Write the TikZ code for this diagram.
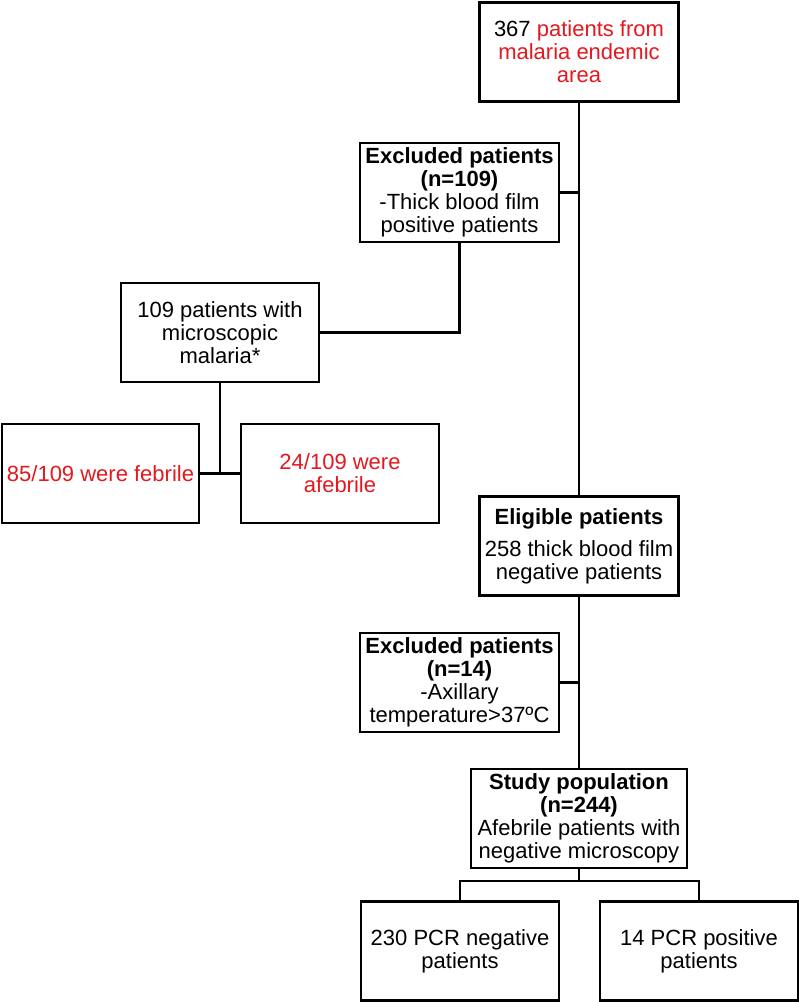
\documentclass[tikz,border=0pt]{standalone}
\usepackage{fontspec}
\setmainfont{Liberation Sans}
\definecolor{fred}{RGB}{228,24,30}
\begin{document}
\begin{tikzpicture}[x=1pt,y=-1pt,
  box/.style={draw, line width=2.3pt, align=center, inner sep=0pt,
    minimum width=199pt, minimum height=99pt,
    font=\fontsize{22}{23}\selectfont},
  conn/.style={line width=2.3pt}]
\useasboundingbox (0,0) rectangle (799,1002);
\node[box] (top) at (579,52) {367 \textcolor{fred}{patients from}\\\textcolor{fred}{malaria endemic}\\\textcolor{fred}{area}};
\node[box] (exa) at (459.5,192.5) {\textbf{Excluded patients}\\\textbf{(n=109)}\\-Thick blood film\\positive patients};
\node[box, minimum width=198pt] (mic) at (220,332.5) {109 patients with\\microscopic\\malaria*};
\node[box, minimum width=197pt] (feb) at (100.5,473.5) {\textcolor{fred}{85/109 were febrile}};
\node[box, minimum width=198pt] (afe) at (340,473.5) {\textcolor{fred}{24/109 were}\\\textcolor{fred}{afebrile}};
\node[box] (eli) at (579,546) {\textbf{Eligible patients}\\[9pt]258 thick blood film\\negative patients};
\node[box] (exb) at (459.5,682.5) {\textbf{Excluded patients}\\\textbf{(n=14)}\\-Axillary\\temperature>37ºC};
\node[box, minimum width=216pt] (stu) at (579,818.5) {\textbf{Study population}\\\textbf{(n=244)}\\Afebrile patients with\\negative microscopy};
\node[box, minimum width=198pt] (neg) at (460,951) {230 PCR negative\\patients};
\node[box, minimum width=198pt] (pos) at (699,951) {14 PCR positive\\patients};
\coordinate (br) at (579,881);
\draw[conn] (top.south) -- (eli.north);
\draw[conn] (exa.east) -- (exa.east -| top.south);
\draw[conn] (exa.south) |- (mic.east);
\draw[conn] (mic.south) -- (mic.south |- feb.east);
\draw[conn] (feb.east) -- (afe.west);
\draw[conn] (eli.south) -- (stu.north);
\draw[conn] (exb.east) -- (exb.east -| eli.south);
\draw[conn] (stu.south) -- (br);
\draw[conn] (neg.north) -- (neg.north |- br) -- (pos.north |- br) -- (pos.north);
\end{tikzpicture}
\end{document}
